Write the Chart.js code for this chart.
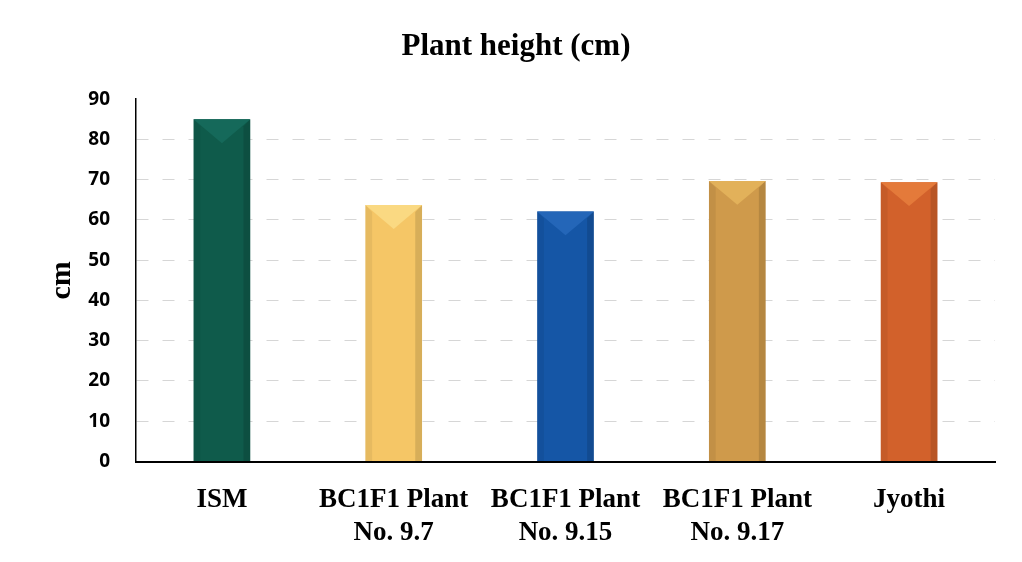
<!DOCTYPE html>
<html>
<head>
<meta charset="utf-8">
<script src="https://cdn.jsdelivr.net/npm/chart.js@4.4.1/dist/chart.umd.min.js"></script>
<style>
  html, body { margin: 0; padding: 0; background: #ffffff; }
  #wrap { width: 1022px; height: 562px; position: relative; }
</style>
</head>
<body>
<div id="wrap"><canvas id="c" width="1022" height="562"></canvas></div>
<script>
// Plant height per genotype (cm)
const categories = [
  'ISM',
  ['BC1F1 Plant', 'No. 9.7'],
  ['BC1F1 Plant', 'No. 9.15'],
  ['BC1F1 Plant', 'No. 9.17'],
  'Jyothi'
];
const heights = [85, 63.7, 62.1, 69.7, 69.4];
const barColors = ['#0f5b4b', '#f5c666', '#1556a6', '#cf9a4b', '#d2612b'];
const topColors = ['#15695a', '#fad982', '#2466b8', '#e2b15a', '#e47a3a'];
const yTicks = [0, 10, 20, 30, 40, 50, 60, 70, 80, 90];

// Bevelled face on each bar: light top facet, shaded side strips
const bevel = {
  id: 'bevel',
  afterDatasetsDraw(chart) {
    const ctx = chart.ctx;
    const meta = chart.getDatasetMeta(0);
    meta.data.forEach((bar, i) => {
      const w = bar.width;
      const x0 = bar.x - w / 2, x1 = bar.x + w / 2;
      const top = bar.y, base = bar.base;
      const b = w * 0.12;
      ctx.save();
      ctx.beginPath();
      ctx.moveTo(x0, top); ctx.lineTo(x0 + b, top + b);
      ctx.lineTo(x0 + b, base); ctx.lineTo(x0, base); ctx.closePath();
      ctx.fillStyle = 'rgba(0,0,0,0.06)';
      ctx.fill();
      ctx.beginPath();
      ctx.moveTo(x1, top); ctx.lineTo(x1 - b, top + b);
      ctx.lineTo(x1 - b, base); ctx.lineTo(x1, base); ctx.closePath();
      ctx.fillStyle = 'rgba(0,0,0,0.12)';
      ctx.fill();
      ctx.beginPath();
      ctx.moveTo(x0, top); ctx.lineTo(x1, top);
      ctx.lineTo(bar.x, top + w * 0.42); ctx.closePath();
      ctx.fillStyle = topColors[i];
      ctx.fill();
      ctx.restore();
    });
  }
};

new Chart(document.getElementById('c'), {
  type: 'bar',
  data: {
    labels: categories,
    datasets: [{
      data: heights,
      backgroundColor: barColors,
      borderWidth: 0,
      barPercentage: 0.33,
      categoryPercentage: 1.0
    }]
  },
  options: {
    responsive: false,
    animation: false,
    layout: { padding: { left: 37, right: 27, top: 0, bottom: 0 } },
    plugins: {
      legend: { display: false },
      tooltip: { enabled: false },
      title: {
        display: true,
        text: 'Plant height (cm)',
        color: '#000000',
        font: { family: '"Liberation Serif", "Times New Roman", serif', size: 31, weight: 'bold', lineHeight: 1.2 },
        padding: { top: 28, bottom: 34 }
      }
    },
    scales: {
      x: {
        grid: { display: false, drawTicks: false },
        border: { display: true, color: '#000000', width: 2 },
        ticks: {
          color: '#000000',
          padding: 22,
          maxRotation: 0,
          autoSkip: false,
          font: { family: '"Liberation Serif", "Times New Roman", serif', size: 27, weight: 'bold', lineHeight: 1.22 }
        },
        afterFit(scale) { scale.height = 100.5; }
      },
      y: {
        min: 0,
        max: 90,
        afterBuildTicks(scale) { scale.ticks = yTicks.map(v => ({ value: v })); },
        grid: {
          drawTicks: false,
          color: ctx => (ctx.tick && (ctx.tick.value === 0 || ctx.tick.value === 90)) ? 'rgba(0,0,0,0)' : '#d6d6d6',
          lineWidth: 1
        },
        border: { display: true, color: '#000000', width: 1.5, dash: [12, 14] },
        ticks: {
          color: '#000000',
          padding: 26,
          font: { family: '"Open Sans", "DejaVu Sans", sans-serif', size: 19, weight: 'bold' }
        },
        title: {
          display: true,
          text: 'cm',
          color: '#000000',
          font: { family: '"Liberation Serif", "Times New Roman", serif', size: 30, weight: 'bold', lineHeight: 1.2 },
          padding: { top: 7, bottom: 0 }
        },
        afterFit(scale) { scale.width = 99; }
      }
    }
  },
  plugins: [bevel]
});
</script>
</body>
</html>
